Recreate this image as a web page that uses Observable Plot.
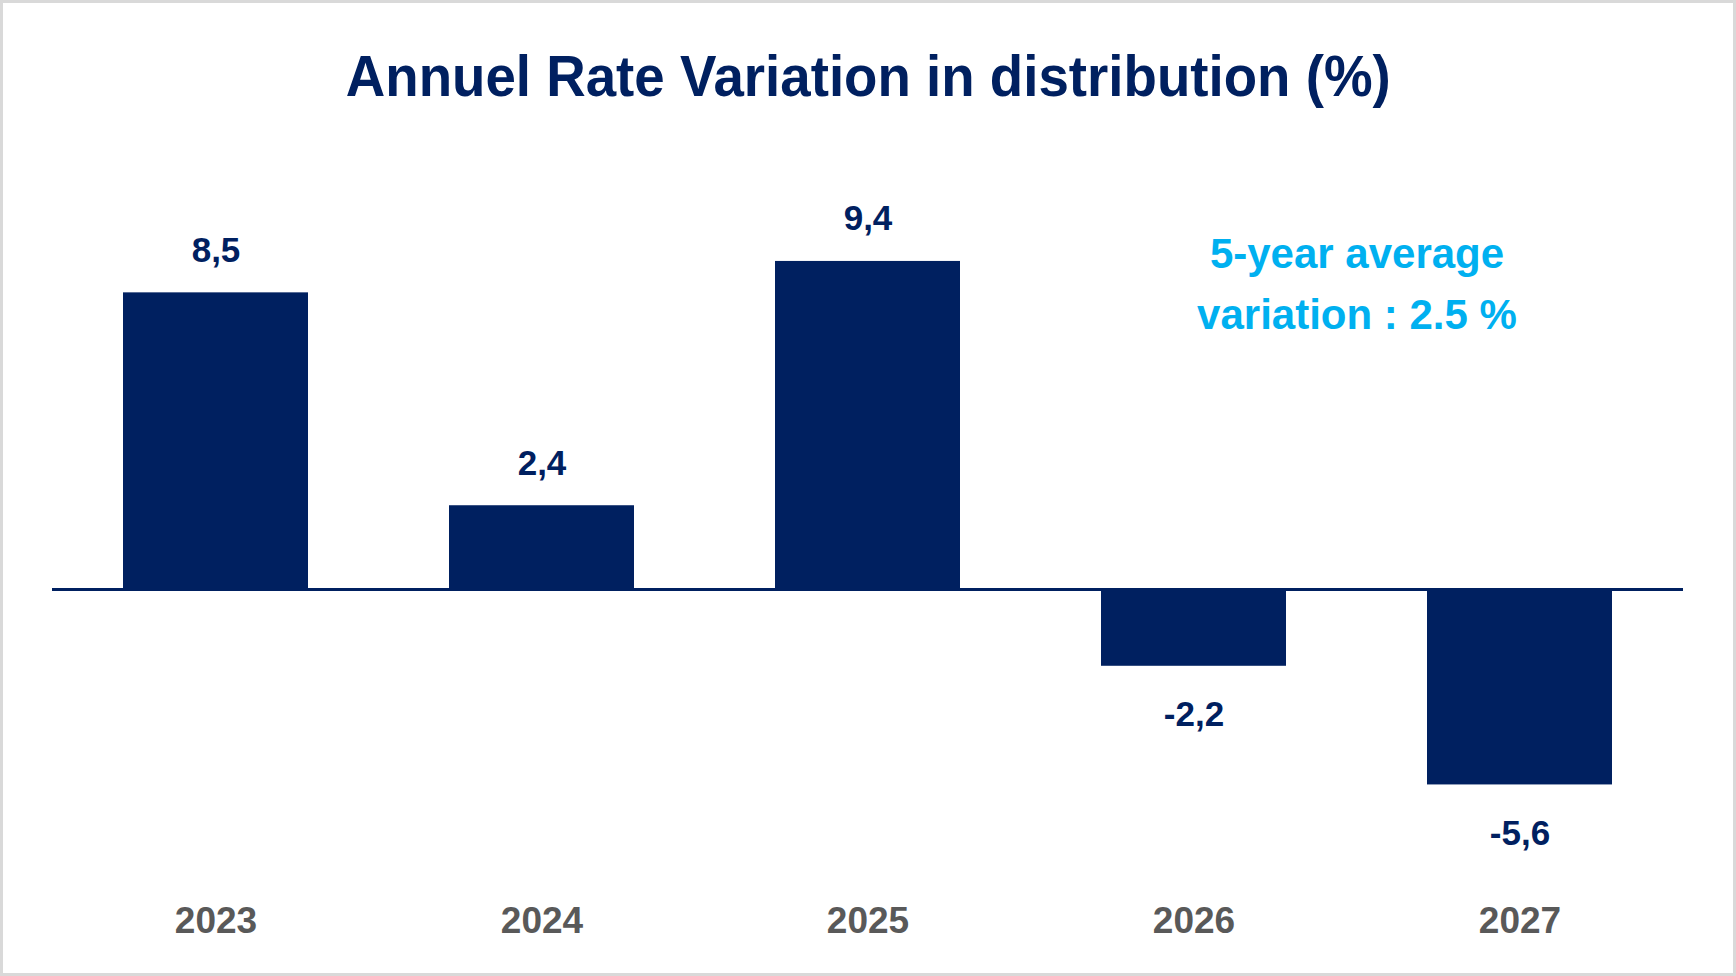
<!DOCTYPE html>
<html>
<head>
<meta charset="utf-8">
<script src="https://cdn.jsdelivr.net/npm/d3@7"></script>
<script src="https://cdn.jsdelivr.net/npm/@observablehq/plot@0.6"></script>
<style>
  html, body { margin: 0; padding: 0; background: #fff; }
  #card {
    position: relative; width: 1736px; height: 976px; overflow: hidden;
    background: #fff; font-family: "Liberation Sans", Arial, sans-serif;
  }
  #frame { position: absolute; inset: 0; border: 3px solid #d9d9d9; pointer-events: none; }
  #title {
    position: absolute; left: 0; top: 47px; width: 1736px; text-align: center;
    font-size: 58px; line-height: 58px; font-weight: 700; color: #002060; white-space: nowrap;
  }
  #title span { display: inline-block; transform-origin: center; }
  #chart { position: absolute; left: 0; top: 140px; }
</style>
</head>
<body>
<div id="card">
  <div id="title"><span>Annuel Rate Variation in distribution (%)</span></div>
  <div id="chart"></div>
  <div id="frame"></div>
</div>
<script>
// Annual rate variation, by year (%)
const years = ["2023", "2024", "2025", "2026", "2027"];
const rates = [8.5, 2.4, 9.4, -2.2, -5.6];
const averageNote = "5-year average\nvariation : 2.5 %";
const noteYear = "2027";

const data = years.map((year, i) => ({year, rate: rates[i]}));
const frenchDecimal = (v) => v.toFixed(1).replace(".", ",");

const navy = "#002060";

const chart = Plot.plot({
  width: 1736,
  height: 836,
  marginLeft: 52,
  marginRight: 53,
  marginTop: 100,
  marginBottom: 142.7,
  style: {fontFamily: '"Liberation Sans", Arial, sans-serif', background: "transparent", overflow: "visible"},
  x: {domain: years, paddingInner: 0.433, paddingOuter: 0.2165},
  y: {domain: [-7, 10], axis: null},
  marks: [
    Plot.barY(data, {x: "year", y: "rate", fill: navy}),
    Plot.ruleY([0], {stroke: navy, strokeWidth: 3}),
    Plot.text(data.filter(d => d.rate >= 0), {
      x: "year", y: "rate", text: d => frenchDecimal(d.rate),
      lineAnchor: "bottom", dy: -31, fontSize: 35, fontWeight: "bold", fill: navy
    }),
    Plot.text(data.filter(d => d.rate < 0), {
      x: "year", y: "rate", text: d => frenchDecimal(d.rate),
      lineAnchor: "top", dy: 35, fontSize: 35, fontWeight: "bold", fill: navy
    }),
    Plot.text([{year: noteYear, note: averageNote}], {
      x: "year", text: "note", frameAnchor: "top", lineAnchor: "bottom",
      dx: -163, dy: 88, lineHeight: 1.45, fontSize: 42, fontWeight: "bold", fill: "#00B0F0"
    }),
    Plot.axisX({
      tickSize: 0, tickPadding: 73, fontSize: 37, fontWeight: "bold",
      color: "#595959", label: null
    })
  ]
});
document.getElementById("chart").append(chart);

// Condense the heading to its intended width
function fitTitle() {
  const span = document.querySelector("#title span");
  span.style.transform = "none";
  const w = span.getBoundingClientRect().width;
  const target = 1045;
  if (w > target) span.style.transform = `scaleX(${target / w})`;
}
fitTitle();
if (document.fonts && document.fonts.ready) document.fonts.ready.then(fitTitle);
</script>
</body>
</html>
